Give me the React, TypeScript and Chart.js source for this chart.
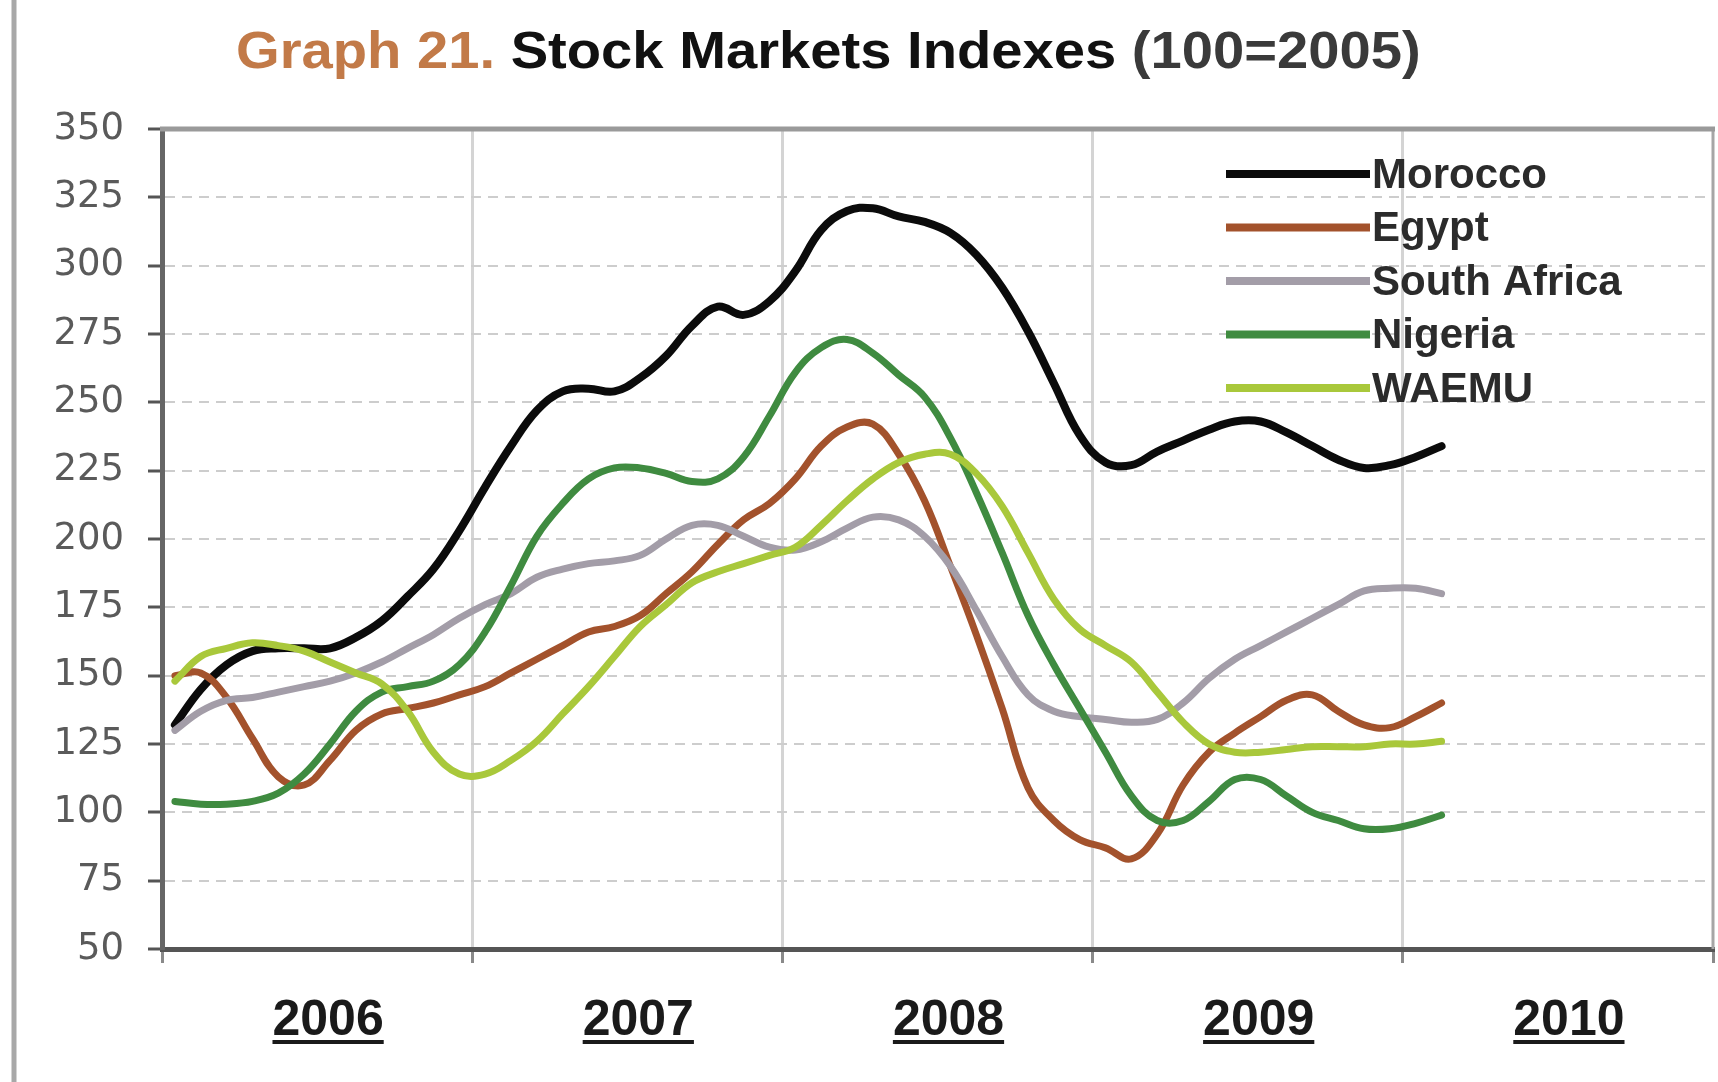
import React, { useEffect, useRef } from 'react';
import { Chart, registerables } from 'chart.js';

Chart.register(...registerables);

// ---------- data ----------
const seriesNames = ['Morocco', 'Egypt', 'South Africa', 'Nigeria', 'WAEMU'];
const seriesColors = ['#0b0b0b', '#a3522c', '#a39da8', '#3f8b40', '#a9c83b'];
const yearLabels = ['2006', '2007', '2008', '2009', '2010'];
const titleParts = [
  { text: 'Graph 21.', color: '#c27a48' },
  { text: ' Stock Markets Indexes', color: '#111111' },
  { text: ' (100=2005)', color: '#3a3a3a' },
];
const yMin = 50;
const yMax = 350;
const yStep = 25;

// monthly values, Jan 2006 .. Feb 2010 (100 = 2005)
const morocco = [132, 145, 154, 159, 160, 160, 160, 164, 170, 179, 189, 203, 219, 234, 247, 254, 255, 254, 259, 267, 278, 285, 282, 287, 298, 313, 320, 321, 318, 316, 312, 304, 292, 276, 257, 238, 228, 227, 232, 236, 240, 243, 243, 239, 234, 229, 226, 227, 230, 234];
const egypt = [150, 151, 142, 127, 113, 110, 119, 130, 136, 138, 140, 143, 146, 151, 156, 161, 166, 168, 172, 180, 188, 198, 207, 213, 222, 234, 241, 242, 231, 214, 190, 165, 138, 109, 97, 90, 87, 83, 92, 110, 122, 129, 135, 141, 143, 137, 132, 131, 135, 140];
const southAfrica = [130, 137, 141, 142, 144, 146, 148, 151, 155, 160, 165, 171, 176, 180, 186, 189, 191, 192, 194, 200, 205, 205, 201, 197, 196, 199, 204, 208, 207, 201, 190, 174, 157, 143, 137, 135, 134, 133, 134, 140, 149, 156, 161, 166, 171, 176, 181, 182, 182, 180];
const nigeria = [104, 103, 103, 104, 107, 114, 125, 137, 144, 146, 148, 154, 166, 183, 201, 213, 222, 226, 226, 224, 221, 222, 230, 245, 261, 270, 273, 268, 260, 252, 237, 217, 195, 172, 154, 138, 122, 106, 97, 97, 104, 112, 112, 106, 100, 97, 94, 94, 96, 99];
const waemu = [148, 157, 160, 162, 161, 159, 155, 151, 147, 137, 122, 114, 114, 119, 126, 136, 146, 157, 168, 176, 184, 188, 191, 194, 197, 205, 214, 222, 228, 231, 231, 224, 212, 195, 178, 167, 161, 155, 144, 133, 125, 122, 122, 123, 124, 124, 124, 125, 125, 126];

const seriesValues = [morocco, egypt, southAfrica, nigeria, waemu];

// ---------- layout ----------
const W = 1718;
const H = 1082;
const AREA = { left: 162, right: 1713, top: 129, bottom: 949 };
const FONT = "'Liberation Sans', Arial, sans-serif";
const X_TICK_LEN = 14;
const X_TICK_PAD = 28;
const X_FONT = 50;
const X_LABEL_SHIFT = 11;

const decorPlugin = {
  id: 'decor',
  beforeDraw(chart: any) {
    const ctx = chart.ctx;
    ctx.save();
    ctx.fillStyle = '#ffffff';
    ctx.fillRect(0, 0, W, H);
    ctx.restore();
  },
  afterDraw(chart: any) {
    const ctx = chart.ctx;
    const ca = chart.chartArea;
    ctx.save();

    // page frame on the left
    ctx.strokeStyle = '#a8a8a8';
    ctx.lineWidth = 5;
    ctx.beginPath();
    ctx.moveTo(14, 0);
    ctx.lineTo(14, H);
    ctx.stroke();

    // right frame of plot
    ctx.strokeStyle = '#a6a6a6';
    ctx.lineWidth = 3;
    ctx.beginPath();
    ctx.moveTo(ca.right, ca.top);
    ctx.lineTo(ca.right, ca.bottom);
    ctx.stroke();

    // top frame of plot
    ctx.strokeStyle = '#9a9a9a';
    ctx.lineWidth = 5;
    ctx.beginPath();
    ctx.moveTo(ca.left - 2, ca.top);
    ctx.lineTo(ca.right + 2, ca.top);
    ctx.stroke();

    // title (slightly widened, as in the source image)
    ctx.save();
    ctx.translate(236, 68);
    ctx.scale(1.08, 1);
    ctx.font = `bold 52px ${FONT}`;
    ctx.textBaseline = 'alphabetic';
    ctx.textAlign = 'left';
    let tx = 0;
    for (const p of titleParts) {
      ctx.fillStyle = p.color;
      ctx.fillText(p.text, tx, 0);
      tx += ctx.measureText(p.text).width;
    }
    ctx.restore();

    // legend
    const lx0 = 1226;
    const lx1 = 1370;
    chart.data.datasets.forEach((ds: any, i: number) => {
      const y = 174 + i * 53.5;
      ctx.strokeStyle = ds.borderColor;
      ctx.lineWidth = 8;
      ctx.lineCap = 'butt';
      ctx.beginPath();
      ctx.moveTo(lx0, y);
      ctx.lineTo(lx1, y);
      ctx.stroke();
      ctx.fillStyle = '#2b2b2b';
      ctx.font = `bold 42px ${FONT}`;
      ctx.textBaseline = 'middle';
      ctx.textAlign = 'left';
      ctx.fillText(ds.label, lx1 + 2, y + 2);
    });

    // underline year labels
    const xs = chart.scales.x;
    ctx.font = `bold ${X_FONT}px ${FONT}`;
    ctx.strokeStyle = '#1a1a1a';
    ctx.lineWidth = 4;
    const mid = ca.bottom + X_TICK_LEN + X_TICK_PAD + (X_FONT * 1.2) / 2;
    yearLabels.forEach((lab, i) => {
      const cx = xs.getPixelForValue(i * 12 + 6) + X_LABEL_SHIFT;
      const w = ctx.measureText(lab).width;
      ctx.beginPath();
      ctx.moveTo(cx - w / 2, mid + 21);
      ctx.lineTo(cx + w / 2, mid + 21);
      ctx.stroke();
    });
    ctx.restore();
  },
};

export default function App() {
  const ref = useRef<HTMLCanvasElement>(null);

  useEffect(() => {
    if (!ref.current) return;
    const datasets = seriesNames.map((name, si) => ({
      label: name,
      data: seriesValues[si].map((v, i) => ({ x: i + 0.5, y: v })),
      borderColor: seriesColors[si],
      backgroundColor: seriesColors[si],
      borderWidth: si === 0 ? 8 : 7,
      pointRadius: 0,
      tension: 0.4,
      fill: false,
      borderCapStyle: 'round',
      borderJoinStyle: 'round',
      order: seriesNames.length - si,
    }));

    const chart = new Chart(ref.current, {
      type: 'line',
      data: { datasets } as any,
      plugins: [decorPlugin],
      options: {
        animation: false,
        responsive: false,
        devicePixelRatio: 1,
        layout: { padding: { top: AREA.top, right: W - AREA.right, bottom: 0, left: 0 } },
        plugins: {
          legend: { display: false },
          tooltip: { enabled: false },
          title: { display: false },
        },
        scales: {
          x: {
            type: 'linear',
            min: 0,
            max: 60,
            afterFit: (s: any) => {
              s.height = H - AREA.bottom;
              s.paddingLeft = 0;
              s.paddingRight = 0;
            },
            ticks: {
              stepSize: 6,
              autoSkip: false,
              maxRotation: 0,
              minRotation: 0,
              padding: X_TICK_PAD,
              labelOffset: X_LABEL_SHIFT,
              color: '#1a1a1a',
              font: { family: FONT, size: X_FONT, weight: 'bold' },
              callback: (v: any) => {
                const n = Number(v);
                return n % 12 === 6 ? yearLabels[(n - 6) / 12] : '';
              },
            },
            grid: {
              color: (c: any) =>
                c.tick && c.tick.value % 12 === 0 && c.tick.value !== 60 ? '#d4d4d4' : 'rgba(0,0,0,0)',
              lineWidth: 3,
              tickLength: X_TICK_LEN,
              tickColor: (c: any) => (c.tick && c.tick.value % 12 === 0 ? '#8a8a8a' : 'rgba(0,0,0,0)'),
              tickWidth: 3,
            },
            border: { display: true, color: '#555555', width: 5 },
          },
          y: {
            type: 'linear',
            min: yMin,
            max: yMax,
            afterFit: (s: any) => {
              s.width = AREA.left;
            },
            ticks: {
              stepSize: yStep,
              padding: 24,
              color: '#5a5a5a',
              font: { family: "'DejaVu Sans', sans-serif", size: 37 },
            },
            grid: {
              color: (c: any) =>
                c.tick && (c.tick.value === yMax || c.tick.value === yMin) ? 'rgba(0,0,0,0)' : '#cdcdcd',
              lineWidth: 2,
              tickLength: 14,
              tickColor: '#555555',
              tickWidth: 3,
            },
            border: { display: true, color: '#666666', width: 5, dash: [10, 7] },
          },
        },
      } as any,
    });
    return () => chart.destroy();
  }, []);

  return (
    <div style={{ position: 'fixed', left: 0, top: 0, width: W, height: H, background: '#ffffff' }}>
      <canvas ref={ref} width={W} height={H} style={{ width: W, height: H, display: 'block' }} />
    </div>
  );
}
